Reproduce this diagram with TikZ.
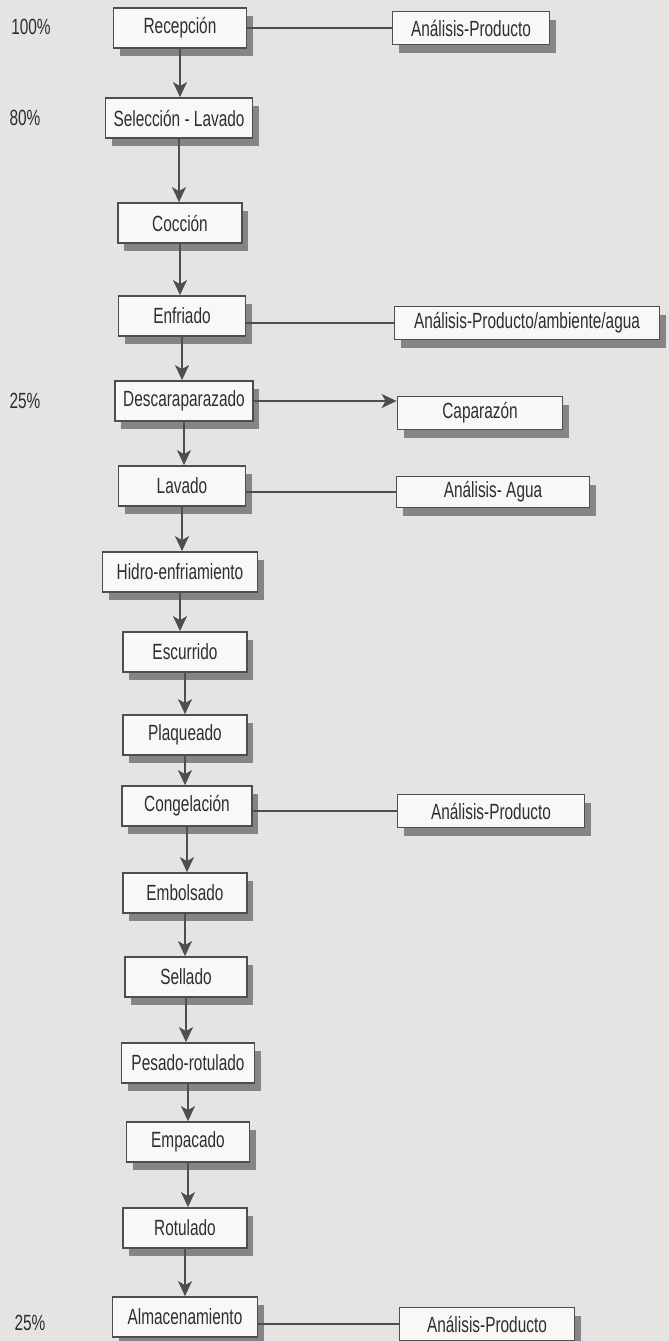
\documentclass[tikz,border=0pt]{standalone}
\usepackage{fontspec}
\setmainfont{Liberation Sans}[FakeStretch=0.7]
\usetikzlibrary{arrows.meta,shadows}
\definecolor{scan}{HTML}{E4E4E2}
\definecolor{ink}{HTML}{2E2E2E}
\definecolor{edge}{HTML}{4E4E4E}
\definecolor{shade}{HTML}{858585}
\definecolor{paper}{HTML}{F8F8F6}
\tikzset{%
  stage/.style={
    draw=edge,
    line width=0.9pt,
    fill=paper,
    text=ink,
    font=\fontsize{11}{13}\selectfont,
    inner sep=0pt,
    minimum height=20pt,
    drop shadow={shadow xshift=3pt, shadow yshift=-4pt, fill=shade, opacity=1}
  },
  check/.style={
    stage,
    minimum height=16.5pt
  },
  share/.style={
    text=ink,
    font=\fontsize{11}{13}\selectfont
  },
  link/.style={draw=edge, line width=0.7pt},
  flow/.style={link, -{Stealth[length=7.5pt, width=7pt, inset=2pt]}}
 }

\begin{document}
\begin{tikzpicture}[x=0.5pt, y=-0.5pt]

\fill [scan] (0,0) rectangle (669,1341);
\useasboundingbox (0,0) rectangle (669,1341);

% process column
\foreach \n/\t/\px/\py/\w in {rec/Recepción/180/28/66.5,
    sel/Selección - Lavado/179/118/73.5,
    coc/Cocción/180/223/62,
    enf/Enfriado/182/316/63.5,
    desc/Descaraparazado/184/401/69,
    lav/Lavado/182/486/63.5,
    hidro/Hidro-enfriamiento/180/572/77.5,
    esc/Escurrido/185/652/62,
    plaq/Plaqueado/185/735/62,
    cong/Congelación/187/806/65,
    emb/Embolsado/185/893/62,
    sell/Sellado/186/977/61,
    pes/Pesado-rotulado/188/1063/66.5,
    emp/Empacado/188/1142/61.5,
    rot/Rotulado/185/1228/62,
    alm/Almacenamiento/185/1317/72.5}
  \node [stage, minimum width=\w pt] (\n) at (\px,\py) {\t};

% side boxes
\node [check, minimum width=78.5pt] (anrec) at (471,28) {Análisis-Producto};
\node [check, minimum width=132.5pt] (anenf) at (527,323) {Análisis-Producto/ambiente/agua};
\node [check, minimum width=82.5pt] (capa) at (480,413) {Caparazón};
\node [check, minimum width=96.5pt, minimum height=15.5pt] (anlav) at (493,492) {Análisis- Agua};
\node [check, minimum width=93.5pt] (ancong) at (491,811) {Análisis-Producto};
\node [check, minimum width=87.5pt] (analm) at (487,1324) {Análisis-Producto};

% yields
\node [share] (p100) at (31,27) {100\%};
\node [share] (p80) at (25,118) {80\%};
\node [share] (p25a) at (25,401) {25\%};
\node [share] (p25b) at (30,1323) {25\%};

\foreach \a/\b in {rec/sel, sel/coc, coc/enf, enf/desc, desc/lav, lav/hidro,
    hidro/esc, esc/plaq, plaq/cong, cong/emb, emb/sell, sell/pes,
    pes/emp, emp/rot, rot/alm}
  \draw [flow] (\a) -- (\a |- \b.north);

\foreach \a/\b in {rec/anrec, enf/anenf, lav/anlav, cong/ancong, alm/analm}
  \draw [link] (\b) -- (\b -| \a.east);

\draw [flow] (desc) -- (desc -| capa.west);

\end{tikzpicture}
\end{document}
